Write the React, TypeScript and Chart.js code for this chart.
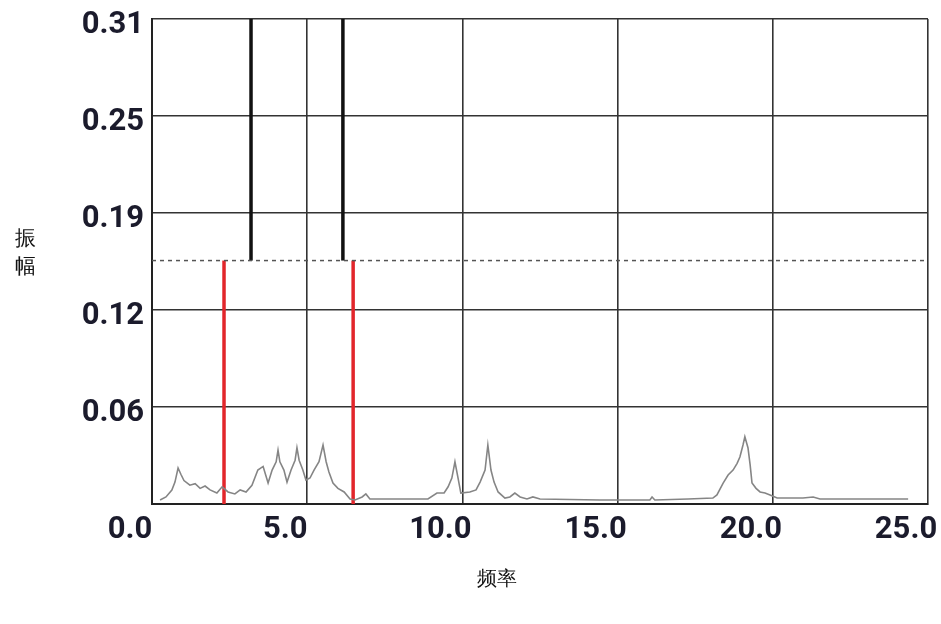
import React, { useEffect, useRef } from "react";
import { Chart, registerables } from "chart.js";
Chart.register(...registerables);

// ---- data ----
const freq = [
  0.26, 0.45, 0.64, 0.74, 0.84, 0.93, 1.03, 1.22, 1.39, 1.55, 1.71, 1.87, 2.09, 2.26, 2.45, 2.67, 2.84, 3.03, 3.22,
  3.41, 3.58, 3.74, 3.87, 4.0, 4.06, 4.12, 4.25, 4.35, 4.48, 4.61, 4.67, 4.74, 4.86, 4.96, 5.09, 5.22, 5.38, 5.51,
  5.61, 5.7, 5.83, 5.99, 6.19, 6.38, 6.54, 6.77, 6.89, 7.02, 7.99, 8.89, 9.18, 9.41, 9.54, 9.66, 9.76, 9.86, 9.95,
  10.24, 10.44, 10.57, 10.73, 10.82, 10.92, 11.02, 11.15, 11.37, 11.53, 11.69, 11.86, 12.08, 12.27, 12.5, 14.43,
  16.04, 16.11, 16.2, 17.27, 18.07, 18.2, 18.4, 18.56, 18.72, 18.85, 18.94, 19.04, 19.1, 19.2, 19.27, 19.33, 19.46,
  19.59, 19.75, 19.91, 20.14, 20.97, 21.3, 21.52, 24.36,
];
const amp = [
  0.0026, 0.0045, 0.0089, 0.014, 0.023, 0.019, 0.015, 0.012, 0.013, 0.01, 0.0115, 0.009, 0.007, 0.011, 0.0077, 0.0064,
  0.009, 0.0077, 0.012, 0.0217, 0.024, 0.0134, 0.0217, 0.027, 0.0345, 0.027, 0.0217, 0.014, 0.0217, 0.028, 0.036,
  0.028, 0.0217, 0.0153, 0.0166, 0.0217, 0.027, 0.0377, 0.027, 0.0204, 0.0134, 0.01, 0.0077, 0.0032, 0.0026, 0.0045,
  0.0064, 0.0032, 0.0032, 0.0032, 0.007, 0.007, 0.011, 0.0166, 0.027, 0.0166, 0.007, 0.0077, 0.009, 0.014, 0.0217,
  0.0377, 0.0217, 0.014, 0.0077, 0.0038, 0.0045, 0.007, 0.0045, 0.0032, 0.0045, 0.0032, 0.0026, 0.0026, 0.0045,
  0.0026, 0.0032, 0.0038, 0.0058, 0.0134, 0.0185, 0.0217, 0.026, 0.03, 0.0377, 0.043, 0.036, 0.025, 0.0134, 0.01,
  0.0077, 0.007, 0.0058, 0.0038, 0.0038, 0.0045, 0.0032, 0.0032,
];
const xTickValues = [0, 5, 10, 15, 20, 25];
const xTickLabels = ["0.0", "5.0", "10.0", "15.0", "20.0", "25.0"];
const yTickValues = [0, 0.062, 0.124, 0.186, 0.248, 0.31];
const yTickLabels = ["", "0.06", "0.12", "0.19", "0.25", "0.31"];
const thresholdLevel = 0.1556;
const blackMarkers = [3.19, 6.15];
const redMarkers = [2.32, 6.48];
const xTitle = "频率";
const yTitle = ["振", "幅"];

const tickFont = {
  family: 'Roboto, "Liberation Sans", sans-serif',
  weight: "bold" as const,
  size: 31,
};

const titlePlugin = {
  id: "axisTitles",
  afterDraw(chart: any) {
    const ctx = chart.ctx;
    ctx.save();
    ctx.fillStyle = "#111";
    ctx.textAlign = "center";
    ctx.textBaseline = "middle";
    ctx.font = '21px serif';
    ctx.fillText(yTitle[0], 25, 239);
    ctx.fillText(yTitle[1], 25, 267);
    ctx.font = '20px serif';
    ctx.fillText(xTitle, 497, 580);
    ctx.restore();
  },
};

export default function App() {
  const ref = useRef<HTMLCanvasElement>(null);
  useEffect(() => {
    document.body.style.margin = "0";
    const spectrum = freq.map((f, i) => ({ x: f, y: amp[i] }));
    const datasets: any[] = [
      {
        data: spectrum,
        borderColor: "#858585",
        borderWidth: 1.6,
        pointRadius: 0,
        showLine: true,
        tension: 0,
      },
      {
        data: [
          { x: xTickValues[0], y: thresholdLevel },
          { x: xTickValues[xTickValues.length - 1], y: thresholdLevel },
        ],
        borderColor: "#555",
        borderWidth: 1.5,
        borderDash: [4, 4],
        pointRadius: 0,
        showLine: true,
      },
      ...blackMarkers.map((m) => ({
        data: [
          { x: m, y: thresholdLevel },
          { x: m, y: yTickValues[yTickValues.length - 1] },
        ],
        borderColor: "#111",
        borderWidth: 3.5,
        pointRadius: 0,
        showLine: true,
      })),
      ...redMarkers.map((m) => ({
        data: [
          { x: m, y: 0 },
          { x: m, y: thresholdLevel },
        ],
        borderColor: "#e2262b",
        borderWidth: 3.5,
        pointRadius: 0,
        showLine: true,
      })),
    ];
    const chart = new Chart(ref.current!, {
      type: "scatter",
      data: { datasets },
      plugins: [titlePlugin],
      options: {
        responsive: false,
        animation: false,
        layout: { padding: { top: 19, right: 13, left: 0, bottom: 0 } },
        plugins: { legend: { display: false }, tooltip: { enabled: false } },
        scales: {
          x: {
            type: "linear",
            min: 0,
            max: 25,
            afterBuildTicks: (s: any) => {
              s.ticks = xTickValues.map((v) => ({ value: v }));
            },
            afterFit: (s: any) => {
              s.height = 120;
              s.paddingLeft = 0;
              s.paddingRight = 0;
            },
            ticks: {
              callback: (_v: any, i: number) => xTickLabels[i],
              font: tickFont,
              color: "#1b1b2c",
              padding: 8,
              labelOffset: -22,
              maxRotation: 0,
              autoSkip: false,
            },
            grid: { color: "#333", lineWidth: 1.6, drawTicks: false },
            border: { color: "#222", width: 2 },
          },
          y: {
            type: "linear",
            min: 0,
            max: 0.31,
            afterBuildTicks: (s: any) => {
              s.ticks = yTickValues.map((v) => ({ value: v }));
            },
            afterFit: (s: any) => {
              s.width = 152;
              s.paddingTop = 0;
              s.paddingBottom = 0;
            },
            ticks: {
              callback: (_v: any, i: number) => yTickLabels[i],
              font: tickFont,
              color: "#1b1b2c",
              padding: 8,
              labelOffset: 6,
              autoSkip: false,
            },
            grid: { color: "#333", lineWidth: 1.6, drawTicks: false },
            border: { color: "#222", width: 2 },
          },
        },
      },
    });
    return () => chart.destroy();
  }, []);
  return <canvas ref={ref} width={941} height={624} style={{ display: "block" }} />;
}
